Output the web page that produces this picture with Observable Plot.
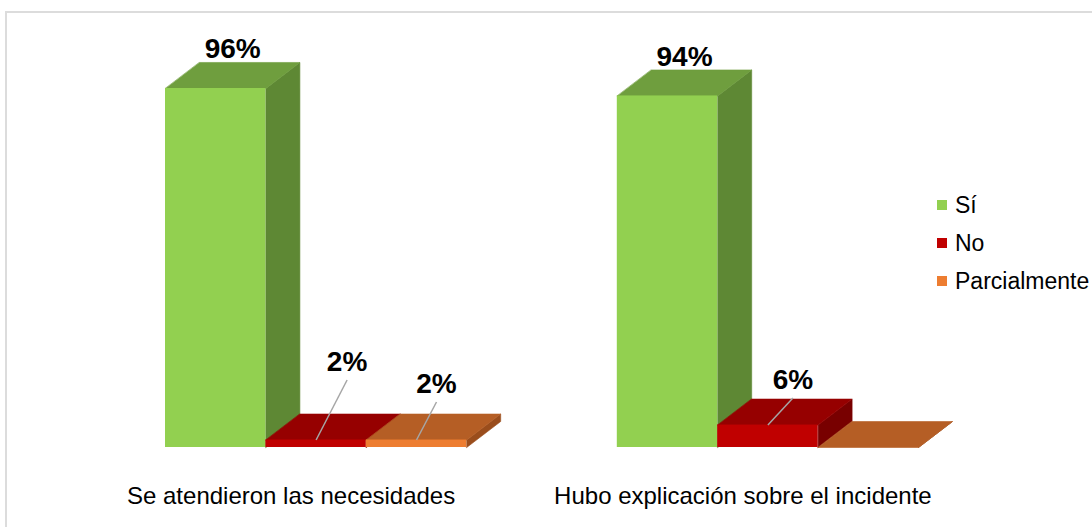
<!DOCTYPE html>
<html><head><meta charset="utf-8">
<script src="https://cdn.jsdelivr.net/npm/d3@7"></script>
<script src="https://cdn.jsdelivr.net/npm/@observablehq/plot@0.6"></script>
<style>
body{margin:0;background:#fff;overflow:hidden;font-family:"Liberation Sans",Arial,sans-serif;}
#wrap{position:relative;width:1092px;height:527px;overflow:hidden;}
#chart{position:absolute;left:0;top:0;}
#frame{position:absolute;left:5px;top:11px;width:1300px;height:800px;border:2px solid #dcdcdc;box-sizing:border-box;pointer-events:none;}
#legend{position:absolute;left:937px;top:186px;font-size:23px;color:#000;}
.row{display:flex;align-items:center;height:38px;white-space:nowrap;}
.sw{width:10px;height:10px;margin-right:8px;}
</style></head>
<body><div id="wrap"><div id="chart"></div><div id="frame"></div><div id="legend"></div></div>
<script>
// ---- data ----
const categories = ["Se atendieron las necesidades", "Hubo explicación sobre el incidente"];
const seriesNames = ["Sí", "No", "Parcialmente"];
const siValues = [96, 94];
const noValues = [2, 6];
const parcialValues = [2, 0];

// ---- styles ----
const frontColors = ["#92D050", "#C00000", "#ED7D31"];
const topColors   = ["#6F9E3E", "#960000", "#B55E25"];
const sideColors  = ["#5E8834", "#780000", "#9A4D1C"];

// ---- layout ----
const W = 1092, H = 527;
const mL = 165, mR = 174, mT = 73, mB = 80;
const groupGap = 1.5;          // slots between groups
const xMax = 7.5;
const pxPerX = (W - mL - mR) / xMax;
const pxPerY = (H - mT - mB) / 100;
const DX = 34 / pxPerX;        // depth offset in x units
const DY = 26 / pxPerY;        // depth offset in y units
const leaderOffsets = {"0-1": [31, 60], "0-2": [20, 38], "1-1": [25, 27]}; // px

const seriesValues = [siValues, noValues, parcialValues];
const bars = [];
categories.forEach((cat, g) => {
  seriesNames.forEach((s, i) => {
    const x1 = g * (seriesNames.length + groupGap) + i;
    bars.push({cat, g, i, s, v: seriesValues[i][g], x1, x2: x1 + 1});
  });
});

const marks = [];
for (const b of bars) {
  const side = [{x: b.x2, y: 0}, {x: b.x2 + DX, y: DY}, {x: b.x2 + DX, y: b.v + DY}, {x: b.x2, y: b.v}];
  const top = [{x: b.x1, y: b.v}, {x: b.x2, y: b.v}, {x: b.x2 + DX, y: b.v + DY}, {x: b.x1 + DX, y: b.v + DY}];
  marks.push(Plot.line(side, {x: "x", y: "y", fill: sideColors[b.i], stroke: sideColors[b.i], strokeWidth: 0.6, curve: "linear-closed"}));
  marks.push(Plot.line(top, {x: "x", y: "y", fill: topColors[b.i], stroke: topColors[b.i], strokeWidth: 0.6, curve: "linear-closed"}));
  if (b.v > 0) marks.push(Plot.rect([b], {x1: "x1", x2: "x2", y1: () => 0, y2: "v", fill: frontColors[b.i]}));
}

// big labels on top of tall bars
const big = bars.filter(b => b.v >= 50);
marks.push(Plot.text(big, {
  x: d => (d.x1 + d.x2) / 2 + DX / 2, y: d => d.v + DY, text: d => d.v + "%",
  lineAnchor: "bottom", dy: -4, fontSize: 28, fontWeight: "bold", fill: "#000"
}));

// small labels with leader lines
const small = bars.filter(b => b.v > 0 && b.v < 50).map(b => {
  const o = leaderOffsets[b.g + "-" + b.i] || [25, 30];
  const xc = (b.x1 + b.x2) / 2;
  return {...b, xa: xc, ya: b.v, xb: xc + o[0] / pxPerX, yb: b.v + o[1] / pxPerY};
});
marks.push(Plot.link(small, {x1: "xa", y1: "ya", x2: "xb", y2: "yb", stroke: "#A6A6A6", strokeWidth: 1.5}));
marks.push(Plot.text(small, {
  x: "xb", y: "yb", text: d => d.v + "%", lineAnchor: "bottom", dy: -9,
  fontSize: 28, fontWeight: "bold", fill: "#000"
}));

// category labels
marks.push(Plot.text(categories.map((c, g) => ({c, x: g * (seriesNames.length + groupGap) + seriesNames.length / 2})), {
  x: "x", y: () => 0, text: "c", dy: 49, dx: -25, lineAnchor: "middle", fontSize: 24, fill: "#000"
}));

const chart = Plot.plot({
  width: W, height: H,
  marginLeft: mL, marginRight: mR, marginTop: mT, marginBottom: mB,
  x: {domain: [0, xMax], axis: null},
  y: {domain: [0, 100], axis: null},
  style: {background: "transparent", fontFamily: "'Liberation Sans', Arial, sans-serif", overflow: "visible"},
  marks
});
document.getElementById("chart").appendChild(chart);

const legend = document.getElementById("legend");
seriesNames.forEach((s, i) => {
  const row = document.createElement("div");
  row.className = "row";
  const sw = document.createElement("div");
  sw.className = "sw";
  sw.style.background = frontColors[i];
  const t = document.createElement("span");
  t.textContent = s;
  row.appendChild(sw); row.appendChild(t);
  legend.appendChild(row);
});
</script>
</body></html>
